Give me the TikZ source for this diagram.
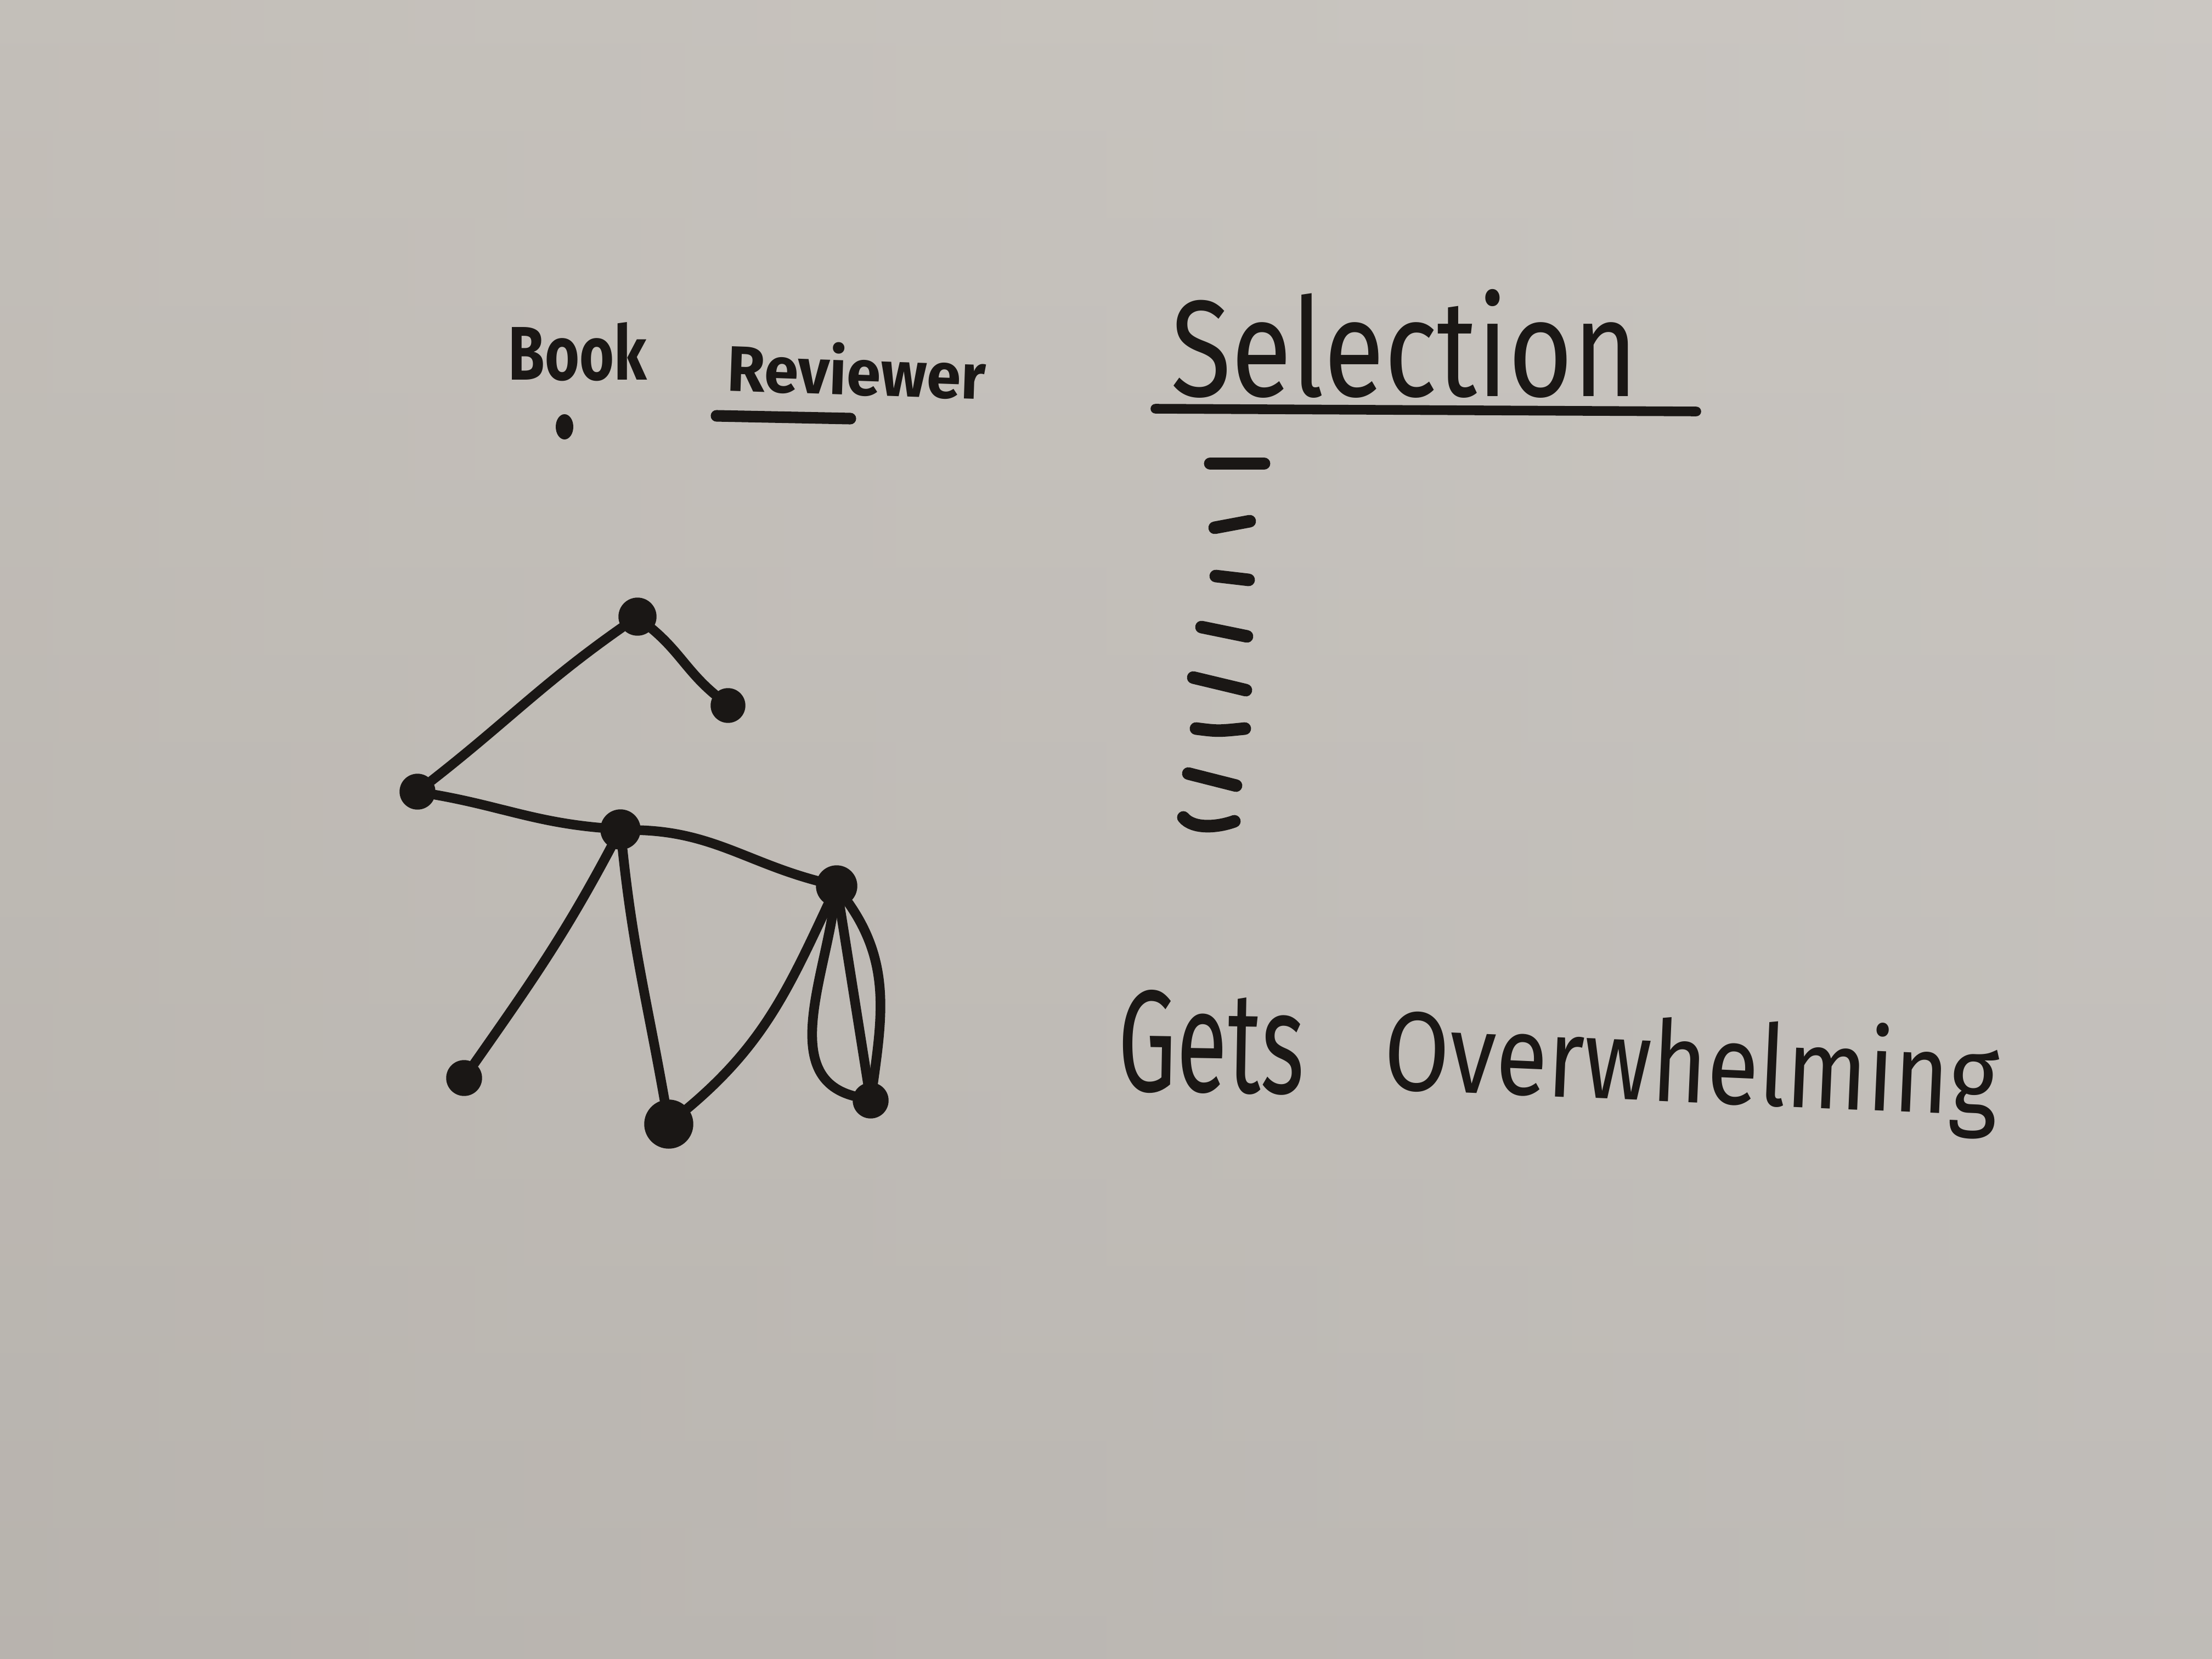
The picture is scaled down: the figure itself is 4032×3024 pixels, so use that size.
\documentclass[tikz,border=0pt]{standalone}
\usepackage{fontspec}
\setmainfont{Fira Sans}
\usepackage{graphicx}
\definecolor{inkc}{RGB}{26,23,21}
\definecolor{bgT}{RGB}{201,197,191}
\definecolor{bgM}{RGB}{205,203,198}
\definecolor{bgB}{RGB}{182,178,173}
\definecolor{bgL}{RGB}{187,182,176}
\definecolor{bgR}{RGB}{206,203,200}
\begin{document}
\begin{tikzpicture}[x=0.01cm,y=0.01cm,
  ink/.style={draw=inkc, line width=5pt, line cap=round, line join=round},
  vertex/.style={circle, fill=inkc, draw=inkc, inner sep=0pt, minimum size=#1},
  vertex/.default=0.64cm,
  txt/.style={inner sep=0pt, text=inkc},
  dashmark/.style={draw=inkc, line width=6.5pt, line cap=round},
  rule/.style={draw=inkc, line width=5pt, line cap=round},
]
% whiteboard
\useasboundingbox (0,0) rectangle (4032,-3024);
\shade[top color=bgT, middle color=bgM, bottom color=bgB] (0,0) rectangle (4032,-3024);
\shade[left color=bgL, right color=bgR, fill opacity=0.4] (0,0) rectangle (4032,-3024);

% headings
\node[txt, anchor=base west] (book) at (926,-692) {\resizebox{2.52cm}{1.05cm}{\bfseries Book}};
\fill[inkc] (1029,-778) ellipse [x radius=16, y radius=23];
\node[txt, anchor=base west, rotate=-2] (rev) at (1324,-712) {\resizebox{4.7cm}{0.95cm}{\bfseries Reviewer}};
\coordinate (revL) at (1306,-758);
\coordinate (revR) at (1550,-763);
\draw[rule, line width=6pt] (revL) -- (revR);

\node[txt, anchor=base west] (sel) at (2134,-722) {\resizebox{8.5cm}{1.95cm}{Selection}};
\coordinate (selL) at (2106,-745);
\coordinate (selR) at (3092,-750);
\draw[rule] (selL) -- (selR);

% list of blank entries
\draw[dashmark] (2206,-845) -- (2304,-845);
\draw[dashmark] (2214,-962) -- (2278,-950);
\draw[dashmark] (2216,-1050) -- (2276,-1057);
\draw[dashmark] (2190,-1143) -- (2273,-1160);
\draw[dashmark] (2175,-1235) -- (2271,-1258);
\draw[dashmark] (2180,-1328) .. controls (2220,-1333) .. (2269,-1328);
\draw[dashmark] (2166,-1410) -- (2253,-1432);
\draw[dashmark] (2157,-1490) .. controls (2175,-1512) and (2220,-1508) .. (2250,-1497);

% graph
\node[vertex=0.68cm] (A) at (1162,-1124) {};
\node[vertex=0.62cm] (B) at (1327,-1286) {};
\node[vertex=0.64cm] (C) at (761,-1443) {};
\node[vertex=0.72cm] (D) at (1131,-1512) {};
\node[vertex=0.74cm] (E) at (1525,-1615) {};
\node[vertex=0.64cm] (F) at (846,-1965) {};
\node[vertex=0.88cm] (G) at (1219,-2049) {};
\node[vertex=0.64cm] (H) at (1587,-2006) {};

\draw[ink] (A) to[out=-40,in=140] (B);
\draw[ink] (C) to[out=38,in=-145] (A);
\draw[ink] (C) to[out=-10,in=175] (D);
\draw[ink] (D) to[out=-2,in=165] (E);
\draw[ink] (D) to[out=-118,in=55] (F);
\draw[ink] (D) to[out=-84,in=100] (G);
\draw[ink] (G) to[out=40,in=-115] (E);
\draw[ink] (E) to[out=-98,in=165] (H);
\draw[ink] (E) -- (H);
\draw[ink] (E) to[out=-55,in=82] (H);

% conclusion
\node[txt, anchor=base west, rotate=-1] (gets) at (2036,-1988) {\resizebox{3.4cm}{1.85cm}{Gets}};
\node[txt, anchor=base west, rotate=-2.5] (over) at (2520,-1985) {\resizebox{11.2cm}{1.6cm}{Overwhelming}};
\end{tikzpicture}
\end{document}
